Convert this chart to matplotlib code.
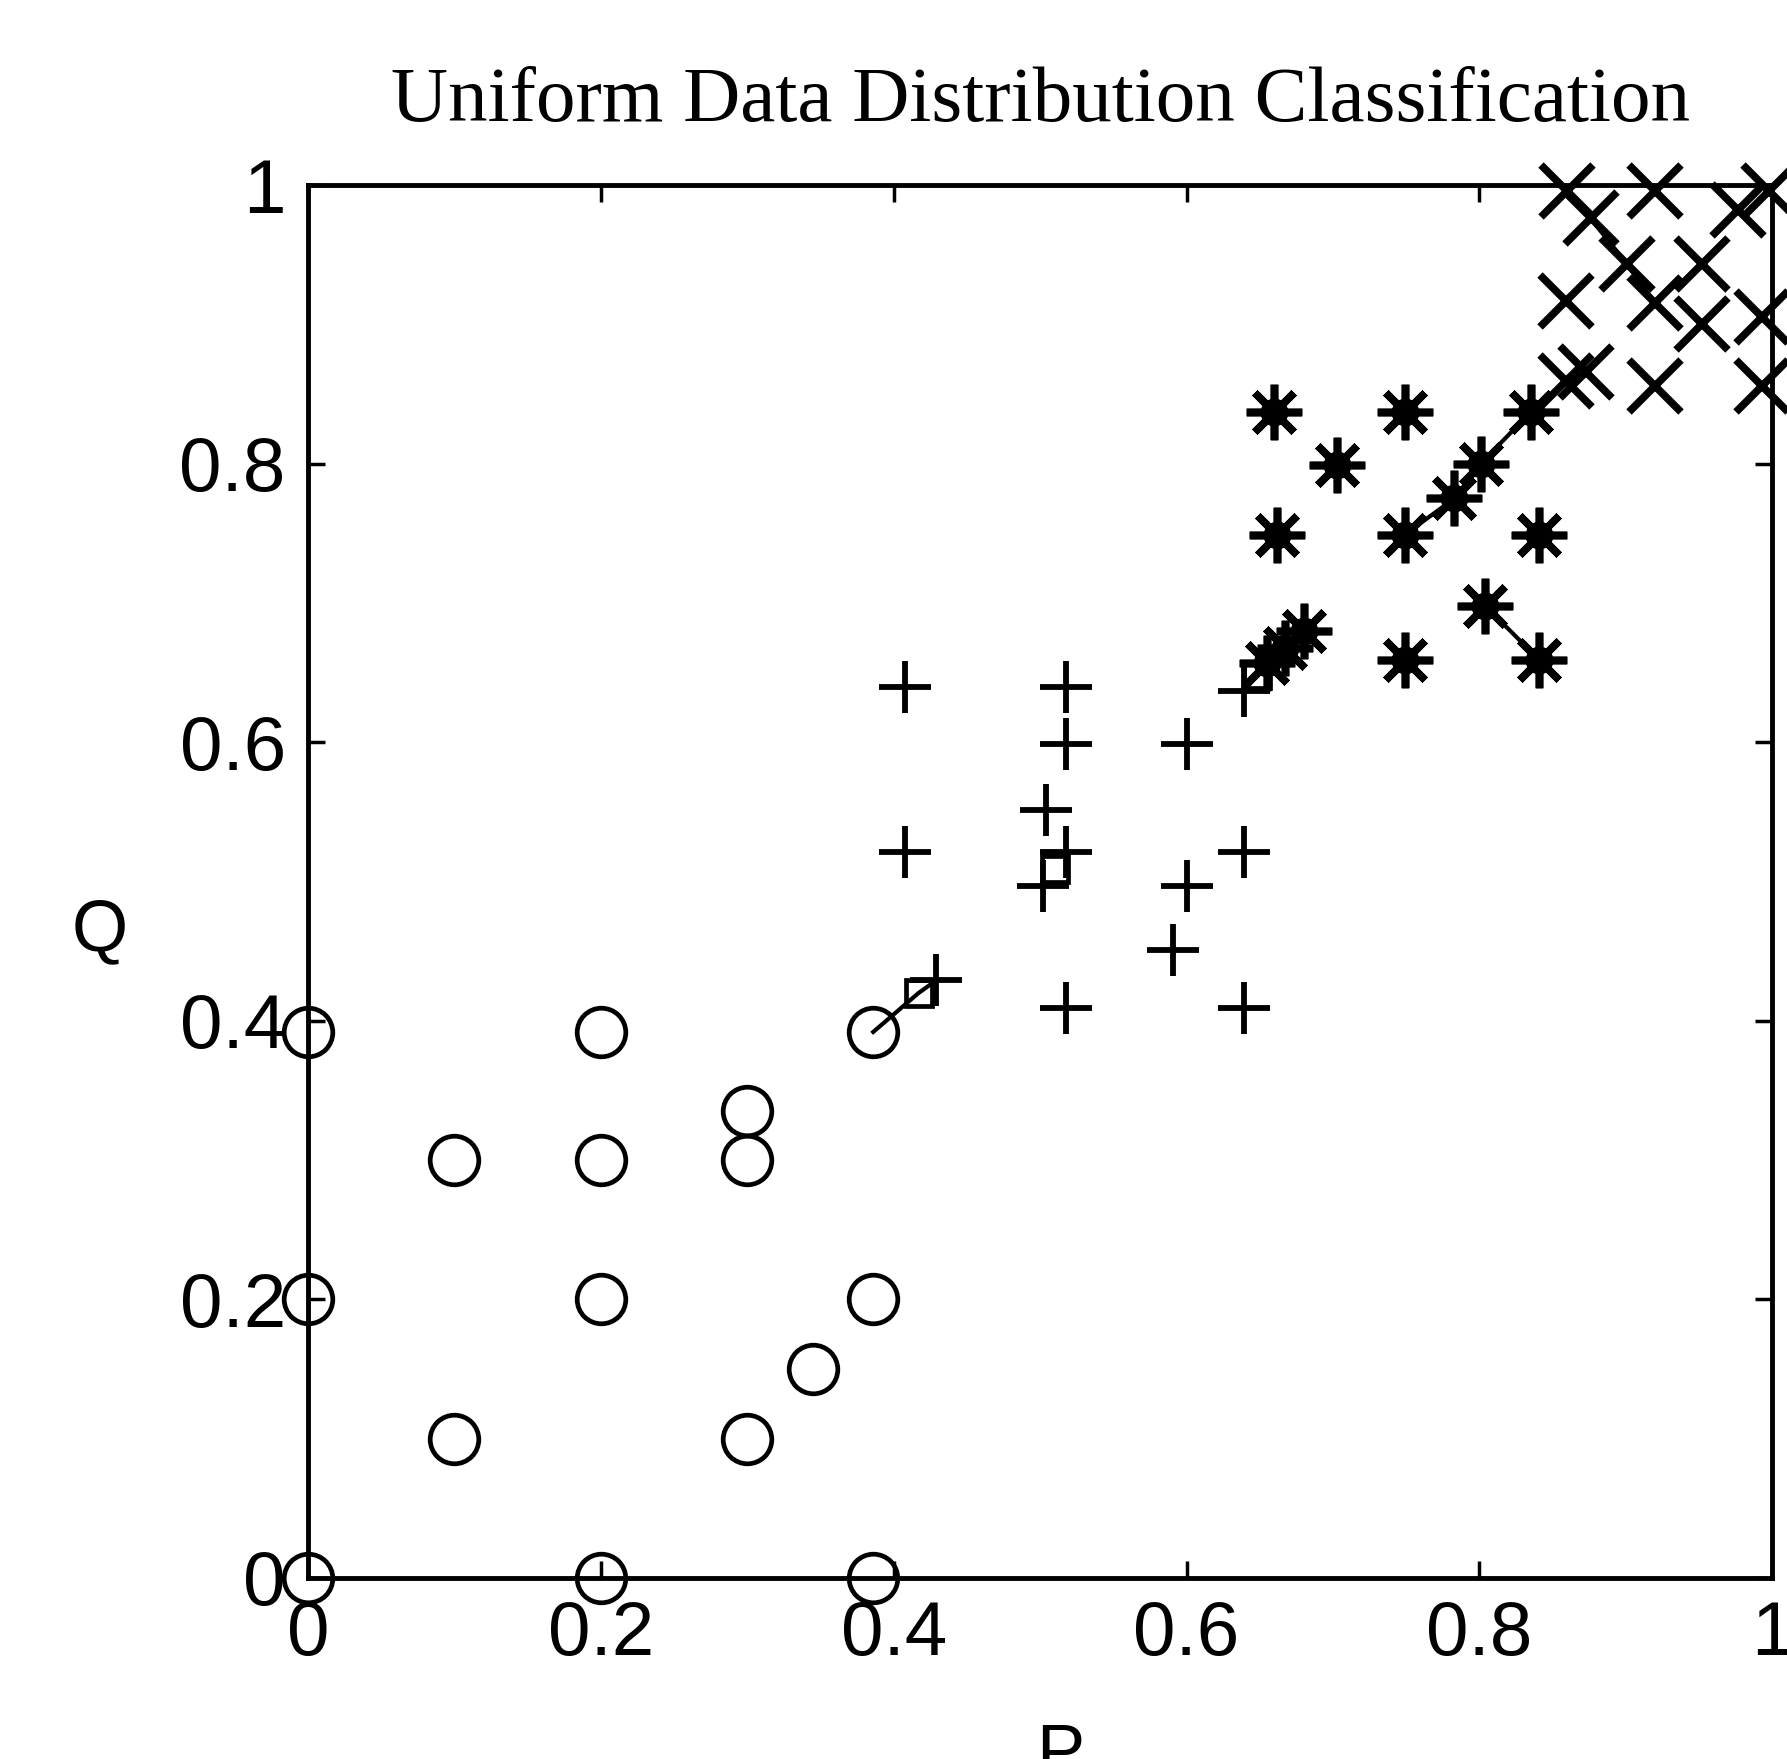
import matplotlib
matplotlib.use("Agg")
import matplotlib.pyplot as plt

# class 1 (circles)
circ_p = [0, 0, 0, 0.1, 0.1, 0.2, 0.2, 0.2, 0.2, 0.3, 0.3, 0.3, 0.345, 0.386, 0.386, 0.386]
circ_q = [0, 0.2, 0.392, 0.3, 0.1, 0.392, 0.3, 0.2, 0, 0.335, 0.3, 0.1, 0.15, 0.392, 0.2, 0]

# class 2 (plus)
plus_p = [0.408, 0.518, 0.518, 0.600, 0.504, 0.408, 0.518, 0.502, 0.600, 0.639, 0.591, 0.518, 0.639, 0.429, 0.639]
plus_q = [0.640, 0.640, 0.599, 0.599, 0.551, 0.521, 0.521, 0.497, 0.497, 0.521, 0.451, 0.409, 0.409, 0.429, 0.637]

# class 3 (stars)
star_p = [0.66, 0.749, 0.703, 0.662, 0.749, 0.841, 0.835, 0.801, 0.783, 0.804, 0.841, 0.749, 0.655, 0.667, 0.68]
star_q = [0.837, 0.837, 0.799, 0.749, 0.749, 0.749, 0.837, 0.80, 0.775, 0.698, 0.659, 0.659, 0.657, 0.668, 0.68]

# class 4 (crosses)
cross_p = [0.86, 0.92, 0.998, 0.876, 0.901, 0.92, 0.952, 0.977, 0.859, 0.952, 0.993, 0.993, 0.92, 0.873, 0.859]
cross_q = [0.996, 0.996, 0.996, 0.976, 0.943, 0.915, 0.943, 0.982, 0.917, 0.90, 0.905, 0.856, 0.856, 0.866, 0.859]

# squares
sq_p = [0.417, 0.51, 0.648]
sq_q = [0.42, 0.509, 0.648]

# connecting paths
paths = [
    ([0.386, 0.417, 0.429], [0.392, 0.42, 0.429]),
    ([0.639, 0.648, 0.655, 0.667, 0.68], [0.637, 0.648, 0.657, 0.668, 0.68]),
    ([0.749, 0.783, 0.801, 0.835, 0.859, 0.873], [0.749, 0.775, 0.80, 0.837, 0.859, 0.866]),
    ([0.804, 0.841], [0.698, 0.659]),
    ([0.876, 0.901, 0.92], [0.976, 0.943, 0.915]),
]

ticks = [0, 0.2, 0.4, 0.6, 0.8, 1]
tick_labels = ["0", "0.2", "0.4", "0.6", "0.8", "1"]

fig = plt.figure(figsize=(17.87, 17.59), dpi=100)
ax = fig.add_axes([0.1724, 0.1029, 0.8193, 0.7919])

for px, qy in paths:
    ax.plot(px, qy, color="black", lw=3, clip_on=False)

ax.plot(circ_p, circ_q, ls="none", marker="o", ms=35, mfc="none", mec="black", mew=3.4, clip_on=False)
ax.plot(plus_p, plus_q, ls="none", marker="+", ms=37, mec="black", mew=4.2, clip_on=False)
ax.plot(star_p, star_q, ls="none", marker=(8, 2, 0), ms=40, mec="black", mew=5.5, clip_on=False)
ax.plot(star_p, star_q, ls="none", marker="o", ms=19, mfc="black", mec="black", clip_on=False)
ax.plot(cross_p, cross_q, ls="none", marker="x", ms=37, mec="black", mew=5.5, clip_on=False)
ax.plot(sq_p, sq_q, ls="none", marker="s", ms=19, mfc="none", mec="black", mew=3.4, clip_on=False)

ax.set_xlim(0, 1)
ax.set_ylim(0, 1)
ax.set_xticks(ticks)
ax.set_xticklabels(tick_labels)
ax.set_yticks(ticks)
ax.set_yticklabels(tick_labels)
ax.tick_params(direction="in", length=12, width=2.5, top=True, right=True,
               labelsize=55, pad=16)
for lab in ax.get_xticklabels() + ax.get_yticklabels():
    lab.set_fontfamily("Liberation Sans")
for s in ax.spines.values():
    s.set_linewidth(3.5)

ax.set_title("Uniform Data Distribution Classification", fontsize=57,
             family="Liberation Serif", pad=46)
ax.set_ylabel("Q", fontsize=52, family="Liberation Sans", rotation=0)
ax.yaxis.set_label_coords(-0.142, 0.44)
ax.set_xlabel("P", fontsize=52, family="Liberation Sans")
ax.xaxis.set_label_coords(0.514, -0.104)

fig.savefig("out.png", dpi=100)
